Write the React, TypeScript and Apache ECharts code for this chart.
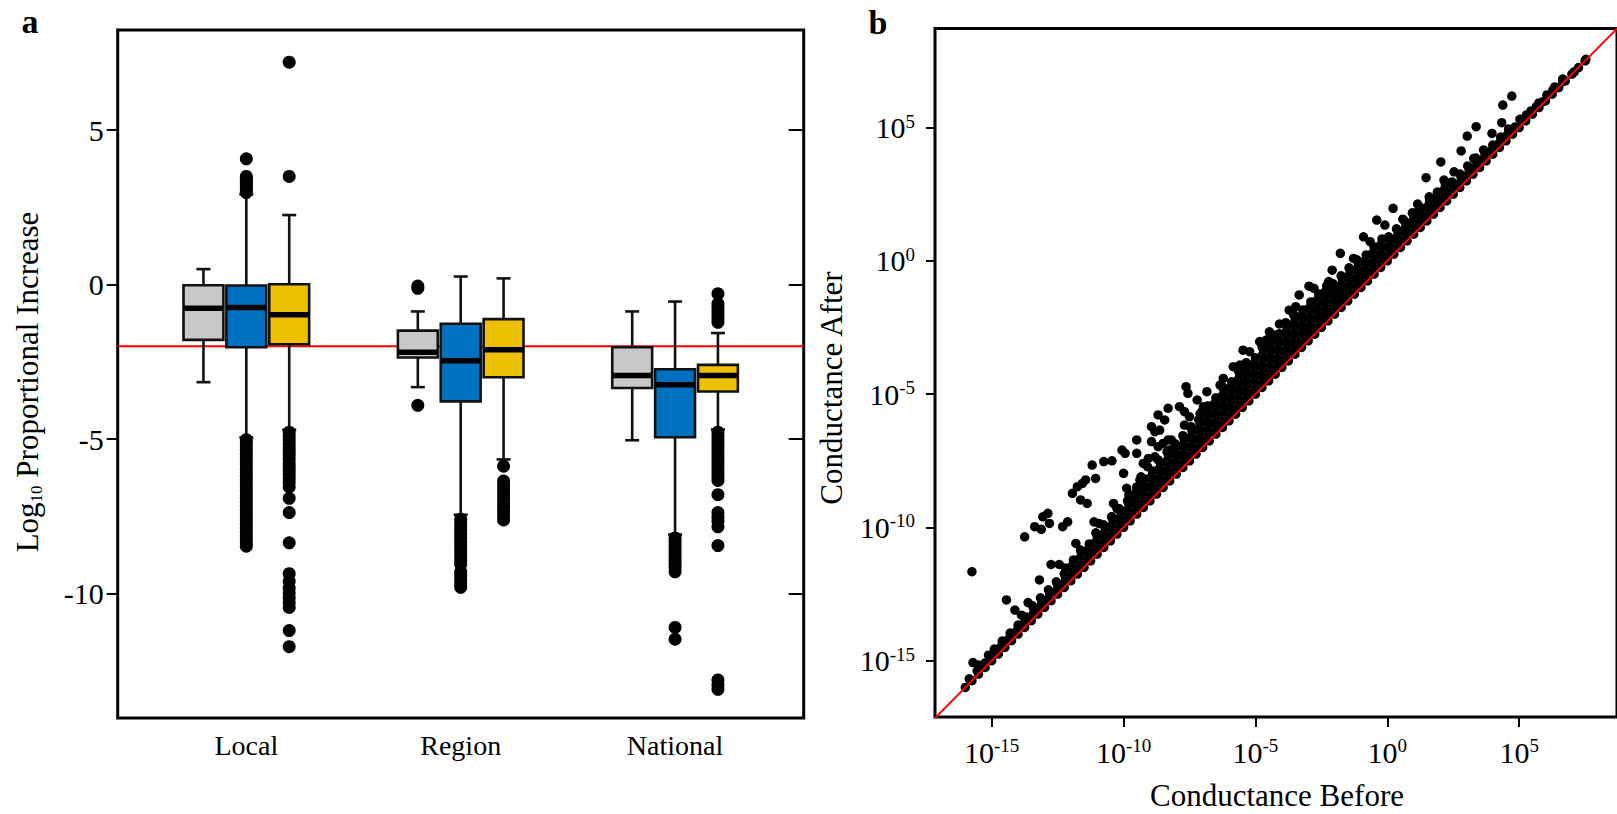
import React, { useEffect, useRef } from "react";
import * as echarts from "echarts";

const FONT = "'Liberation Serif', 'Times New Roman', Times, serif";

// ---------------- Panel a : box plots ----------------
const groupLabels = ["Local", "Region", "National"];
const groupTickPositions = [2, 7, 12];
const boxPositions = [1, 2, 3, 6, 7, 8, 11, 12, 13];
const boxFill = ["#C8C8C8", "#0070C0", "#EEC100"];
const yTicksA = [-10, -5, 0, 5];
const referenceLevelA = -2;

// [lower whisker, Q1, median, Q3, upper whisker]
const localGray = [-3.16, -1.79, -0.77, -0.02, 0.5];
const localBlue = [-4.95, -2.03, -0.74, -0.03, 2.92];
const localYellow = [-4.7, -1.93, -0.98, 0.01, 2.25];
const regionGray = [-3.32, -2.36, -2.19, -1.49, -0.87];
const regionBlue = [-7.45, -3.78, -2.47, -1.27, 0.26];
const regionYellow = [-5.66, -3.0, -2.11, -1.12, 0.2];
const nationalGray = [-5.04, -3.35, -2.94, -2.03, -0.87];
const nationalBlue = [-8.09, -4.94, -3.24, -2.74, -0.55];
const nationalYellow = [-4.69, -3.46, -2.94, -2.6, -1.57];

const localGrayOut: number[] = [];
const localBlueOut = [2.98, 3.07, 3.15, 3.22, 3.3, 3.38, 3.45, 3.5, 4.07,
  -5.02, -5.12, -5.24, -5.36, -5.48, -5.6, -5.72, -5.84, -5.96, -6.08, -6.2, -6.32, -6.44, -6.56, -6.68,
  -6.8, -6.92, -7.04, -7.16, -7.28, -7.4, -7.52, -7.64, -7.76, -7.88, -8.0, -8.12, -8.24, -8.36, -8.47];
const localYellowOut = [3.5, 7.2,
  -4.78, -4.9, -5.02, -5.15, -5.28, -5.4, -5.52, -5.65, -5.78, -5.9, -6.02, -6.15, -6.28, -6.4, -6.55,
  -6.92, -7.38, -8.36, -9.36, -9.6, -9.82, -9.98, -10.14, -10.3, -10.45, -11.2, -11.72];
const regionGrayOut = [-0.05, -0.12, -3.91];
const regionBlueOut = [-7.6, -7.72, -7.84, -7.96, -8.08, -8.2, -8.32, -8.44, -8.56, -8.68, -8.8, -8.92, -9.05,
  -9.3, -9.42, -9.55, -9.68, -9.8];
const regionYellowOut = [-5.88, -6.36, -6.5, -6.64, -6.78, -6.92, -7.06, -7.2, -7.34, -7.48, -7.62];
const nationalGrayOut: number[] = [];
const nationalBlueOut = [-8.2, -8.32, -8.44, -8.56, -8.68, -8.8, -8.92, -9.04, -9.16, -9.3, -11.1, -11.48];
const nationalYellowOut = [-0.3, -0.62, -0.74, -0.86, -0.98, -1.1, -1.22,
  -4.78, -4.9, -5.02, -5.14, -5.26, -5.38, -5.5, -5.62, -5.74, -5.86, -5.98, -6.1, -6.22, -6.34,
  -6.8, -7.38, -7.52, -7.66, -7.84, -8.45, -12.8, -12.95, -13.1];

const boxStats = [localGray, localBlue, localYellow, regionGray, regionBlue, regionYellow, nationalGray, nationalBlue, nationalYellow];
const boxOutliers = [localGrayOut, localBlueOut, localYellowOut, regionGrayOut, regionBlueOut, regionYellowOut, nationalGrayOut, nationalBlueOut, nationalYellowOut];

// ---------------- Panel b : log10 conductance before / after ----------------
const logTicks = [-15, -10, -5, 0, 5];
const refLineB = [[-18, -18], [9, 9]];

// points with unchanged conductance
const conductanceUnchanged = [
  [-16, -16], [-15.75, -15.75], [-15.5, -15.5], [-15.25, -15.25], [-15, -15], [-14.75, -14.75], [-14.5, -14.5], [-14.25, -14.25],
  [-14, -14], [-13.75, -13.75], [-13.5, -13.5], [-13.25, -13.25], [-13, -13], [-12.75, -12.75], [-12.5, -12.5], [-12.25, -12.25],
  [-12, -12], [-11.75, -11.75], [-11.5, -11.5], [-11.25, -11.25], [-11, -11], [-10.75, -10.75], [-10.5, -10.5], [-10.25, -10.25],
  [-10, -10], [-9.75, -9.75], [-9.5, -9.5], [-9.25, -9.25], [-9, -9], [-8.75, -8.75], [-8.5, -8.5], [-8.25, -8.25],
  [-8, -8], [-7.75, -7.75], [-7.5, -7.5], [-7.25, -7.25], [-7, -7], [-6.75, -6.75], [-6.5, -6.5], [-6.25, -6.25],
  [-6, -6], [-5.75, -5.75], [-5.5, -5.5], [-5.25, -5.25], [-5, -5], [-4.75, -4.75], [-4.5, -4.5], [-4.25, -4.25],
  [-4, -4], [-3.75, -3.75], [-3.5, -3.5], [-3.25, -3.25], [-3, -3], [-2.75, -2.75], [-2.5, -2.5], [-2.25, -2.25],
  [-2, -2], [-1.75, -1.75], [-1.5, -1.5], [-1.25, -1.25], [-1, -1], [-0.75, -0.75], [-0.5, -0.5], [-0.25, -0.25],
  [0, 0], [0.25, 0.25], [0.5, 0.5], [0.75, 0.75], [1, 1], [1.25, 1.25], [1.5, 1.5], [1.75, 1.75],
  [2, 2], [2.25, 2.25], [2.5, 2.5], [2.75, 2.75], [3, 3], [3.25, 3.25], [3.5, 3.5], [3.75, 3.75],
  [4, 4], [4.25, 4.25], [4.5, 4.5], [4.75, 4.75], [5, 5], [5.25, 5.25], [5.5, 5.5], [5.75, 5.75],
  [6, 6], [6.25, 6.25], [6.5, 6.5], [6.75, 6.75], [7, 7], [7.25, 7.25], [7.5, 7.5],
];

// dense band just above the unchanged line
const conductanceBand = [
  [-15.85, -15.68], [-15.55, -15.38], [-15.25, -15.08], [-14.95, -14.78], [-14.65, -14.48], [-14.35, -14.18], [-14.05, -13.88], [-13.75, -13.58],
  [-13.45, -13.28], [-13.15, -12.98], [-12.85, -12.68], [-12.55, -12.38], [-12.25, -12.08], [-11.95, -11.78], [-11.65, -11.48], [-11.35, -11.18],
  [-11.05, -10.88], [-10.75, -10.58], [-10.45, -10.28], [-10.15, -9.98], [-9.85, -9.68], [-9.55, -9.38], [-9.25, -9.08], [-8.95, -8.78],
  [-8.65, -8.48], [-8.35, -8.18], [-8.05, -7.88], [-7.75, -7.58], [-7.45, -7.28], [-7.15, -6.98], [-6.85, -6.68], [-6.55, -6.38],
  [-6.25, -6.08], [-5.95, -5.78], [-5.65, -5.48], [-5.35, -5.18], [-5.05, -4.88], [-4.75, -4.58], [-4.45, -4.28], [-4.15, -3.98],
  [-3.85, -3.68], [-3.55, -3.38], [-3.25, -3.08], [-2.95, -2.78], [-2.65, -2.48], [-2.35, -2.18], [-2.05, -1.88], [-1.75, -1.58],
  [-1.45, -1.28], [-1.15, -0.98], [-0.85, -0.68], [-0.55, -0.38], [-0.25, -0.08], [0.05, 0.22], [0.35, 0.52], [0.65, 0.82],
  [0.95, 1.12], [1.25, 1.42], [1.55, 1.72], [1.85, 2.02], [2.15, 2.32], [2.45, 2.62], [2.75, 2.92], [3.05, 3.22],
  [3.35, 3.52], [3.65, 3.82], [3.95, 4.12], [4.25, 4.42], [4.55, 4.72], [4.85, 5.02], [5.15, 5.32], [5.45, 5.62],
  [5.75, 5.92], [6.05, 6.22], [6.35, 6.52], [6.65, 6.82],

  [-14.9, -14.56], [-14.6, -14.26], [-14.3, -13.96], [-14.0, -13.66], [-13.7, -13.36], [-13.4, -13.06], [-13.1, -12.76], [-12.8, -12.46],
  [-12.5, -12.16], [-12.2, -11.86], [-11.9, -11.56], [-11.6, -11.26], [-11.3, -10.96], [-11.0, -10.66], [-10.7, -10.36], [-10.4, -10.06],
  [-10.1, -9.76], [-9.8, -9.46], [-9.5, -9.16], [-9.2, -8.86], [-8.9, -8.56], [-8.6, -8.26], [-8.3, -7.96], [-8.0, -7.66],
  [-7.7, -7.36], [-7.4, -7.06], [-7.1, -6.76], [-6.8, -6.46], [-6.5, -6.16], [-6.2, -5.86], [-5.9, -5.56], [-5.6, -5.26],
  [-5.3, -4.96], [-5.0, -4.66], [-4.7, -4.36], [-4.4, -4.06], [-4.1, -3.76], [-3.8, -3.46], [-3.5, -3.16], [-3.2, -2.86],
  [-2.9, -2.56], [-2.6, -2.26], [-2.3, -1.96], [-2.0, -1.66], [-1.7, -1.36], [-1.4, -1.06], [-1.1, -0.76], [-0.8, -0.46],
  [-0.5, -0.16], [-0.2, 0.14], [0.1, 0.44], [0.4, 0.74], [0.7, 1.04], [1.0, 1.34], [1.3, 1.64], [1.6, 1.94],
  [1.9, 2.24], [2.2, 2.54], [2.5, 2.84], [2.8, 3.14], [3.1, 3.44], [3.4, 3.74], [3.7, 4.04], [4.0, 4.34], [4.3, 4.64], [4.6, 4.94],

  [-13.45, -12.94], [-13.15, -12.64], [-12.85, -12.34], [-12.55, -12.04], [-12.25, -11.74], [-11.95, -11.44], [-11.65, -11.14], [-11.35, -10.84],
  [-11.05, -10.54], [-10.75, -10.24], [-10.45, -9.94], [-10.15, -9.64], [-9.85, -9.34], [-9.55, -9.04], [-9.25, -8.74], [-8.95, -8.44],
  [-8.65, -8.14], [-8.35, -7.84], [-8.05, -7.54], [-7.75, -7.24], [-7.45, -6.94], [-7.15, -6.64], [-6.85, -6.34], [-6.55, -6.04],
  [-6.25, -5.74], [-5.95, -5.44], [-5.65, -5.14], [-5.35, -4.84], [-5.05, -4.54], [-4.75, -4.24], [-4.45, -3.94], [-4.15, -3.64],
  [-3.85, -3.34], [-3.55, -3.04], [-3.25, -2.74], [-2.95, -2.44], [-2.65, -2.14], [-2.35, -1.84], [-2.05, -1.54], [-1.75, -1.24],
  [-1.45, -0.94], [-1.15, -0.64], [-0.85, -0.34], [-0.55, -0.04], [-0.25, 0.26], [0.05, 0.56], [0.35, 0.86], [0.65, 1.16],
  [0.95, 1.46], [1.25, 1.76], [1.55, 2.06], [1.85, 2.36], [2.15, 2.66], [2.45, 2.96], [2.75, 3.26], [3.05, 3.56], [3.35, 3.86],

  [-12.2, -11.52], [-11.9, -11.22], [-11.6, -10.92], [-11.3, -10.62], [-11.0, -10.32], [-10.7, -10.02], [-10.4, -9.72], [-10.1, -9.42],
  [-9.8, -9.12], [-9.5, -8.82], [-9.2, -8.52], [-8.9, -8.22], [-8.6, -7.92], [-8.3, -7.62], [-8.0, -7.32], [-7.7, -7.02],
  [-7.4, -6.72], [-7.1, -6.42], [-6.8, -6.12], [-6.5, -5.82], [-6.2, -5.52], [-5.9, -5.22], [-5.6, -4.92], [-5.3, -4.62],
  [-5.0, -4.32], [-4.7, -4.02], [-4.4, -3.72], [-4.1, -3.42], [-3.8, -3.12], [-3.5, -2.82], [-3.2, -2.52], [-2.9, -2.22],
  [-2.6, -1.92], [-2.3, -1.62], [-2.0, -1.32], [-1.7, -1.02], [-1.4, -0.72], [-1.1, -0.42], [-0.8, -0.12], [-0.5, 0.18],
  [-0.2, 0.48], [0.1, 0.78], [0.4, 1.08], [0.7, 1.38], [1.0, 1.68], [1.3, 1.98], [1.6, 2.28], [1.9, 2.58], [2.2, 2.88],

  [-11.05, -10.2], [-10.75, -9.9], [-10.45, -9.6], [-10.15, -9.3], [-9.85, -9.0], [-9.55, -8.7], [-9.25, -8.4], [-8.95, -8.1],
  [-8.65, -7.8], [-8.35, -7.5], [-8.05, -7.2], [-7.75, -6.9], [-7.45, -6.6], [-7.15, -6.3], [-6.85, -6.0], [-6.55, -5.7],
  [-6.25, -5.4], [-5.95, -5.1], [-5.65, -4.8], [-5.35, -4.5], [-5.05, -4.2], [-4.75, -3.9], [-4.45, -3.6], [-4.15, -3.3],
  [-3.85, -3.0], [-3.55, -2.7], [-3.25, -2.4], [-2.95, -2.1], [-2.65, -1.8], [-2.35, -1.5], [-2.05, -1.2], [-1.75, -0.9],
  [-1.45, -0.6], [-1.15, -0.3], [-0.85, 0.0], [-0.55, 0.3], [-0.25, 0.6], [0.05, 0.9], [0.35, 1.2], [0.65, 1.5], [0.95, 1.8],

  [-9.8, -8.78], [-9.5, -8.48], [-9.2, -8.18], [-8.9, -7.88], [-8.6, -7.58], [-8.3, -7.28], [-8.0, -6.98], [-7.7, -6.68],
  [-7.4, -6.38], [-7.1, -6.08], [-6.8, -5.78], [-6.5, -5.48], [-6.2, -5.18], [-5.9, -4.88], [-5.6, -4.58], [-5.3, -4.28],
  [-5.0, -3.98], [-4.7, -3.68], [-4.4, -3.38], [-4.1, -3.08], [-3.8, -2.78], [-3.5, -2.48], [-3.2, -2.18], [-2.9, -1.88],
  [-2.6, -1.58], [-2.3, -1.28], [-2.0, -0.98], [-1.7, -0.68], [-1.4, -0.38], [-1.1, -0.08], [-0.8, 0.22], [-0.5, 0.52], [-0.2, 0.82],

  [-8.35, -7.16], [-8.05, -6.86], [-7.75, -6.56], [-7.45, -6.26], [-7.15, -5.96], [-6.85, -5.66], [-6.55, -5.36], [-6.25, -5.06],
  [-5.95, -4.76], [-5.65, -4.46], [-5.35, -4.16], [-5.05, -3.86], [-4.75, -3.56], [-4.45, -3.26], [-4.15, -2.96], [-3.85, -2.66],
  [-3.55, -2.36], [-3.25, -2.06], [-2.95, -1.76], [-2.65, -1.46], [-2.35, -1.16], [-2.05, -0.86], [-1.75, -0.56], [-1.45, -0.26], [-1.15, 0.04],

  [-7.1, -5.74], [-6.8, -5.44], [-6.5, -5.14], [-6.2, -4.84], [-5.9, -4.54], [-5.6, -4.24], [-5.3, -3.94], [-5.0, -3.64],
  [-4.7, -3.34], [-4.4, -3.04], [-4.1, -2.74], [-3.8, -2.44], [-3.5, -2.14], [-3.2, -1.84], [-2.9, -1.54], [-2.6, -1.24], [-2.3, -0.94],

  [-6.25, -4.72], [-5.65, -4.12], [-5.35, -3.82], [-4.75, -3.22], [-4.45, -2.92], [-3.85, -2.32], [-3.55, -2.02],
];

// scattered points well above the line
const conductanceSpread = [
  [-15.75, -11.66], [-15.71, -15.07], [-15.5, -15.16], [-15.12, -14.79], [-14.44, -12.72], [-14.12, -13.1], [-13.87, -13.29],
  [-13.62, -12.82], [-13.19, -11.97], [-12.75, -11.39], [-12.44, -11.39], [-13.75, -10.35], [-13.37, -9.97], [-13.12, -10.07],
  [-13.06, -9.6], [-12.87, -9.47], [-12.81, -9.85], [-12.31, -9.97], [-12.12, -9.79], [-11.81, -10.6], [-11.63, -10.85],
  [-11.94, -8.72], [-11.75, -8.47], [-11.56, -8.35], [-11.44, -8.22], [-11.63, -8.97], [-11.38, -9.1], [-11.19, -7.66],
  [-11.06, -8.16], [-11.12, -9.79], [-10.94, -9.85], [-10.75, -7.53], [-10.44, -7.5], [-10.06, -7.1], [-9.94, -7.22],
  [-10.0, -7.97], [-9.88, -8.53], [-10.38, -9.1], [-10.25, -9.29], [-10.44, -9.6], [-9.5, -6.72], [-9.5, -7.22],
  [-9.38, -8.22], [-9.38, -8.47], [-9.25, -7.6], [-9.06, -7.41], [-8.81, -7.35], [-8.69, -7.47], [-8.94, -6.22],
  [-8.81, -6.41], [-8.63, -6.35], [-8.94, -6.78], [-8.69, -6.97], [-8.5, -6.85], [-8.31, -6.72], [-8.19, -6.72],
  [-8.25, -7.1], [-8.69, -5.78], [-8.44, -5.97], [-8.31, -5.53], [-7.88, -5.47], [-7.69, -5.66], [-7.5, -5.85],
  [-7.63, -4.72], [-7.56, -4.97], [-7.69, -6.16], [-7.44, -6.22], [-9.71, -8.91], [-9.09, -7.72], [-9.34, -8.1],
  [-7.21, -5.22], [-7.03, -5.66], [-6.97, -5.47], [-6.84, -4.91], [-6.22, -4.41], [-6.34, -4.66], [-5.84, -3.97],
  [-5.59, -3.91], [-5.47, -3.35], [-5.22, -3.41], [-4.84, -3.03], [-4.59, -2.97], [-4.47, -2.66], [-4.22, -2.78],
  [-4.09, -2.37], [-3.72, -1.85], [-3.47, -1.72], [-3.34, -1.28], [-2.97, -0.95], [-2.78, -1.03], [-2.22, -0.78],
  [-2.03, -1.03], [-1.97, -1.35], [-2.09, -0.35], [-1.53, -0.6], [-1.78, 0.28], [-1.28, 0.09], [-0.9, 0.9],
  [-0.65, 0.72], [-0.4, 1.53], [-0.09, 1.34], [0.22, 1.97],
  [0.59, 1.56], [0.78, 1.28], [1.15, 2.13], [1.15, 1.84], [1.59, 2.4], [1.47, 3.12], [2.03, 3.71], [2.15, 3.03],
  [2.53, 3.34], [2.8, 4.12], [3.03, 4.68], [3.37, 5.03], [3.28, 3.84], [3.65, 4.16], [3.97, 4.78], [4.34, 5.18],
  [4.38, 5.84], [4.72, 6.18], [5.03, 5.31], [5.28, 5.47], [5.65, 5.78], [5.9, 5.97], [6.28, 6.41], [6.65, 6.72],
  [7.09, 7.09], [7.53, 7.56],
];

const BOX_WIDTH = 0.93;
const CAP_HALF = 7;

export default function App() {
  const ref = useRef<HTMLDivElement>(null);

  useEffect(() => {
    if (!ref.current) return;
    const chart = echarts.init(ref.current, undefined, { renderer: "svg" });

    const boxData = boxStats.map((s, i) => [boxPositions[i], ...s]);
    const outlierData: number[][] = [];
    boxOutliers.forEach((list, i) => list.forEach((v) => outlierData.push([boxPositions[i], v])));

    const tickStyle = { color: "#000", width: 2 };
    const hiddenLine = { show: false, onZero: false };
    const supLabel = {
      customValues: logTicks,
      formatter: (v: number) => `{b|10}{s|${v}}`,
      fontFamily: FONT,
      fontSize: 30,
      color: "#000",
      rich: {
        b: { fontFamily: FONT, fontSize: 30, lineHeight: 32, color: "#000" },
        s: { fontFamily: FONT, fontSize: 19, lineHeight: 12, verticalAlign: "top", color: "#000" },
      },
    };

    const option: any = {
      animation: false,
      backgroundColor: "#fff",
      grid: [
        { left: 117.7, top: 30, width: 686, height: 688, show: true, borderColor: "#000", borderWidth: 3, backgroundColor: "rgba(0,0,0,0)" },
        { left: 935, top: 28.6, width: 690, height: 688.4, show: true, borderColor: "#000", borderWidth: 3, backgroundColor: "rgba(0,0,0,0)" },
      ],
      xAxis: [
        {
          gridIndex: 0, type: "value", min: -1, max: 15, position: "bottom",
          axisLine: hiddenLine, axisTick: { show: false }, splitLine: { show: false },
          axisLabel: {
            customValues: groupTickPositions,
            formatter: (v: number) => groupLabels[groupTickPositions.indexOf(v)] ?? "",
            fontFamily: FONT, fontSize: 28, lineHeight: 28, color: "#000", margin: 13,
          },
        },
        {
          gridIndex: 1, type: "value", min: -17.15, max: 8.71, position: "bottom",
          axisLine: hiddenLine, splitLine: { show: false },
          axisTick: { show: true, length: 10, customValues: logTicks, lineStyle: tickStyle },
          axisLabel: { ...supLabel, margin: 19 },
        },
      ],
      yAxis: [
        {
          gridIndex: 0, type: "value", min: -14.03, max: 8.24, position: "left",
          axisLine: hiddenLine, splitLine: { show: false },
          axisTick: { show: true, length: 11, customValues: yTicksA, lineStyle: tickStyle },
          axisLabel: { customValues: yTicksA, fontFamily: FONT, fontSize: 30, color: "#000", margin: 14 },
        },
        {
          gridIndex: 0, type: "value", min: -14.03, max: 8.24, position: "right",
          axisLine: hiddenLine, splitLine: { show: false },
          axisTick: { show: true, inside: true, length: 15, customValues: yTicksA, lineStyle: tickStyle },
          axisLabel: { show: false },
        },
        {
          gridIndex: 1, type: "value", min: -17.11, max: 8.71, position: "left",
          axisLine: hiddenLine, splitLine: { show: false },
          axisTick: { show: true, length: 9, customValues: logTicks, lineStyle: tickStyle },
          axisLabel: { ...supLabel, margin: 20 },
        },
      ],
      series: [
        {
          type: "line", xAxisIndex: 0, yAxisIndex: 0, z: 1, symbol: "none", silent: true,
          data: [[-1, referenceLevelA], [15, referenceLevelA]],
          lineStyle: { color: "#FF0000", width: 2 },
        },
        {
          type: "custom", xAxisIndex: 0, yAxisIndex: 0, z: 3,
          data: boxData,
          encode: { x: 0, y: [1, 2, 3, 4, 5] },
          renderItem: (params: any, api: any) => {
            const pos = api.value(0);
            const lo = api.coord([pos, api.value(1)]);
            const q1 = api.coord([pos, api.value(2)]);
            const md = api.coord([pos, api.value(3)]);
            const q3 = api.coord([pos, api.value(4)]);
            const hi = api.coord([pos, api.value(5)]);
            const hw = api.size([BOX_WIDTH, 0])[0] / 2;
            const cx = lo[0];
            const stroke = "#111";
            const lw = 2.6;
            return {
              type: "group",
              children: [
                { type: "line", shape: { x1: cx, y1: hi[1], x2: cx, y2: q3[1] }, style: { stroke, lineWidth: lw } },
                { type: "line", shape: { x1: cx, y1: q1[1], x2: cx, y2: lo[1] }, style: { stroke, lineWidth: lw } },
                { type: "line", shape: { x1: cx - CAP_HALF, y1: hi[1], x2: cx + CAP_HALF, y2: hi[1] }, style: { stroke, lineWidth: lw } },
                { type: "line", shape: { x1: cx - CAP_HALF, y1: lo[1], x2: cx + CAP_HALF, y2: lo[1] }, style: { stroke, lineWidth: lw } },
                {
                  type: "rect",
                  shape: { x: cx - hw, y: q3[1], width: 2 * hw, height: q1[1] - q3[1] },
                  style: { fill: boxFill[params.dataIndex % 3], stroke, lineWidth: lw },
                },
                { type: "line", shape: { x1: cx - hw, y1: md[1], x2: cx + hw, y2: md[1] }, style: { stroke: "#000", lineWidth: 5.5 } },
              ],
            };
          },
        },
        {
          type: "scatter", xAxisIndex: 0, yAxisIndex: 0, z: 4, symbol: "circle", symbolSize: 13,
          data: outlierData, itemStyle: { color: "#000", opacity: 1 },
        },
        {
          type: "scatter", xAxisIndex: 1, yAxisIndex: 2, z: 3, symbol: "circle", symbolSize: 9.5,
          data: [...conductanceUnchanged, ...conductanceBand, ...conductanceSpread],
          itemStyle: { color: "#000", opacity: 1 },
        },
        {
          type: "line", xAxisIndex: 1, yAxisIndex: 2, z: 5, symbol: "none", silent: true, clip: true,
          data: refLineB, lineStyle: { color: "#FF0000", width: 2 },
        },
      ],
      graphic: [
        { type: "text", x: 30, y: 21, style: { text: "a", fontFamily: FONT, fontSize: 34, fontWeight: "bold", fill: "#000", align: "center", verticalAlign: "middle" } },
        { type: "text", x: 878, y: 22, style: { text: "b", fontFamily: FONT, fontSize: 34, fontWeight: "bold", fill: "#000", align: "center", verticalAlign: "middle" } },
        {
          type: "text", x: 27.5, y: 382, rotation: Math.PI / 2,
          style: {
            text: "Log{sub|10} Proportional Increase",
            fontFamily: FONT, fontSize: 31, lineHeight: 34, fill: "#000", align: "center", verticalAlign: "middle",
            rich: { sub: { fontFamily: FONT, fontSize: 17, lineHeight: 16, verticalAlign: "bottom", fill: "#000" } },
          },
        },
        {
          type: "text", x: 831, y: 388, rotation: Math.PI / 2,
          style: { text: "Conductance After", fontFamily: FONT, fontSize: 31, fill: "#000", align: "center", verticalAlign: "middle" },
        },
        {
          type: "text", x: 1277, y: 795,
          style: { text: "Conductance Before", fontFamily: FONT, fontSize: 31, fill: "#000", align: "center", verticalAlign: "middle" },
        },
      ],
    };

    chart.setOption(option);
    return () => chart.dispose();
  }, []);

  return <div ref={ref} style={{ position: "fixed", left: 0, top: 0, width: 1617, height: 814 }} />;
}
